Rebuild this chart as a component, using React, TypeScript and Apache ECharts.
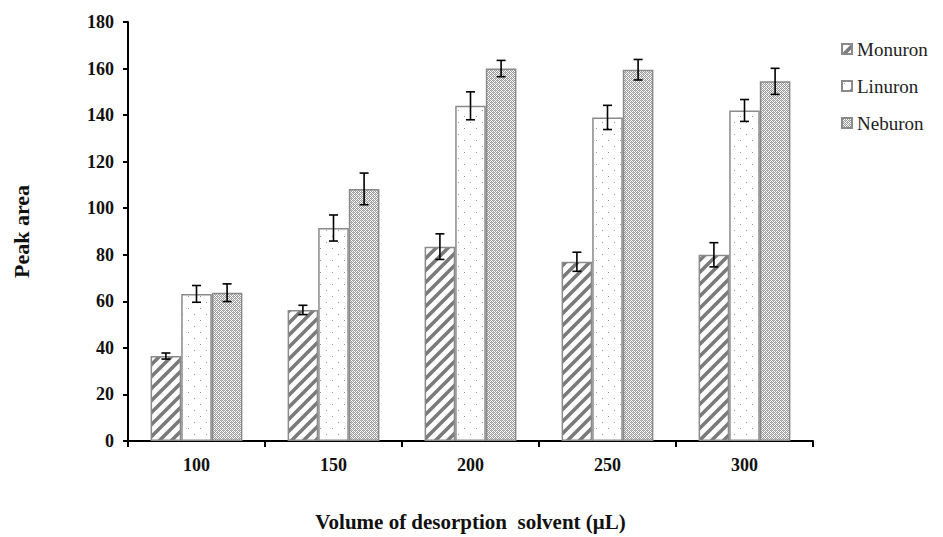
import React, { useEffect, useRef } from "react";
import * as echarts from "echarts";

const categories = ["100", "150", "200", "250", "300"];
const seriesNames = ["Monuron", "Linuron", "Neburon"];
const monuron = [36.5, 56.3, 83.5, 77.0, 80.0];
const linuron = [63.2, 91.5, 144.0, 139.0, 142.0];
const neburon = [63.7, 108.3, 160.0, 159.5, 154.5];
const monuronErr = [1.3, 2.0, 5.5, 4.1, 5.2];
const linuronErr = [3.6, 5.6, 6.0, 5.2, 4.7];
const neburonErr = [3.8, 6.8, 3.5, 4.4, 5.6];
const yTicks = { min: 0, max: 180, interval: 20 };

const FONT = "'Liberation Serif', 'Times New Roman', serif";

function hatchCanvas() {
  const c = document.createElement("canvas");
  c.width = 12;
  c.height = 12;
  const g = c.getContext("2d")!;
  g.fillStyle = "#ffffff";
  g.fillRect(0, 0, 12, 12);
  g.strokeStyle = "#7a7a7a";
  g.lineWidth = 3.6;
  g.beginPath();
  g.moveTo(-2, 14);
  g.lineTo(14, -2);
  g.moveTo(-8, 8);
  g.lineTo(8, -8);
  g.moveTo(4, 20);
  g.lineTo(20, 4);
  g.stroke();
  return c;
}

function dotCanvas() {
  const c = document.createElement("canvas");
  c.width = 12;
  c.height = 12;
  const g = c.getContext("2d")!;
  g.fillStyle = "#ffffff";
  g.fillRect(0, 0, 12, 12);
  g.fillStyle = "#9a9a9a";
  g.fillRect(2, 2, 1, 1);
  g.fillRect(8, 8, 1, 1);
  return c;
}

function crossCanvas() {
  const c = document.createElement("canvas");
  c.width = 4;
  c.height = 4;
  const g = c.getContext("2d")!;
  g.fillStyle = "#ffffff";
  g.fillRect(0, 0, 4, 4);
  g.fillStyle = "#9c9c9c";
  g.fillRect(0, 0, 1, 1);
  g.fillRect(2, 0, 1, 1);
  g.fillRect(1, 1, 1, 1);
  g.fillRect(3, 1, 1, 1);
  g.fillRect(0, 2, 1, 1);
  g.fillRect(2, 2, 1, 1);
  g.fillRect(1, 3, 1, 1);
  g.fillRect(3, 3, 1, 1);
  g.fillStyle = "#c8c8c8";
  g.fillRect(1, 0, 1, 1);
  g.fillRect(3, 2, 1, 1);
  return c;
}

export default function App() {
  const ref = useRef<HTMLDivElement>(null);
  useEffect(() => {
    if (!ref.current) return;
    const chart = echarts.init(ref.current, undefined, { renderer: "svg" });
    const patterns = [hatchCanvas(), dotCanvas(), crossCanvas()];
    const values = [monuron, linuron, neburon];
    const errs = [monuronErr, linuronErr, neburonErr];
    const gapFrac = 0.67;

    const barSeries = seriesNames.map((name, i) => ({
      name,
      type: "bar",
      data: values[i],
      barGap: "0%",
      barCategoryGap: "33%",
      itemStyle: {
        color: { image: patterns[i], repeat: "repeat" },
        borderColor: "#8a8a8a",
        borderWidth: 1.5,
      },
      z: 2,
    }));

    const errSeries = seriesNames.map((name, i) => ({
      name: name + " error",
      type: "custom",
      z: 5,
      data: values[i].map((v, k) => [k, v, errs[i][k]]),
      renderItem: (params: any, api: any) => {
        const xi = api.value(0);
        const v = api.value(1);
        const e = api.value(2);
        const band = api.size([1, 0])[0];
        const bw = (band * gapFrac) / 3;
        const cx = api.coord([xi, v])[0] + (i - 1) * bw;
        const top = api.coord([xi, v + e])[1];
        const bot = api.coord([xi, v - e])[1];
        const cap = 4.5;
        const st = { stroke: "#000", lineWidth: 1.6 };
        return {
          type: "group",
          children: [
            { type: "line", shape: { x1: cx, y1: top, x2: cx, y2: bot }, style: st },
            { type: "line", shape: { x1: cx - cap, y1: top, x2: cx + cap, y2: top }, style: st },
            { type: "line", shape: { x1: cx - cap, y1: bot, x2: cx + cap, y2: bot }, style: st },
          ],
        };
      },
    }));

    chart.setOption({
      animation: false,
      backgroundColor: "#ffffff",
      grid: { left: 128, right: 130, top: 22, bottom: 91, containLabel: false },
      legend: {
        data: seriesNames,
        orient: "vertical",
        left: 836,
        top: 34,
        itemWidth: 10,
        itemHeight: 10,
        itemGap: 17,
        icon: "rect",
        textStyle: { fontFamily: FONT, fontSize: 19, lineHeight: 20, color: "#222" },
      },
      xAxis: {
        type: "category",
        data: categories,
        name: "Volume of desorption  solvent (μL)",
        nameLocation: "middle",
        nameGap: 70,
        nameTextStyle: { fontFamily: FONT, fontSize: 21, fontWeight: "bold", color: "#111" },
        axisLine: { lineStyle: { color: "#000", width: 2 } },
        axisTick: { show: true, length: 6, lineStyle: { color: "#000", width: 2 } },
        axisLabel: { fontFamily: FONT, fontSize: 18, fontWeight: "bold", color: "#111", margin: 15 },
      },
      yAxis: {
        type: "value",
        min: yTicks.min,
        max: yTicks.max,
        interval: yTicks.interval,
        name: "Peak area",
        nameLocation: "middle",
        nameGap: 96,
        nameTextStyle: { fontFamily: FONT, fontSize: 22, fontWeight: "bold", color: "#111" },
        axisLine: { show: true, lineStyle: { color: "#000", width: 2 } },
        axisTick: { show: true, length: 5, lineStyle: { color: "#000", width: 2 } },
        axisLabel: { fontFamily: FONT, fontSize: 18, fontWeight: "bold", color: "#111", margin: 14 },
        splitLine: { show: false },
      },
      series: [...barSeries, ...errSeries],
    });
    return () => chart.dispose();
  }, []);
  return <div ref={ref} style={{ width: 943, height: 537, position: "absolute", left: 0, top: 0 }} />;
}
